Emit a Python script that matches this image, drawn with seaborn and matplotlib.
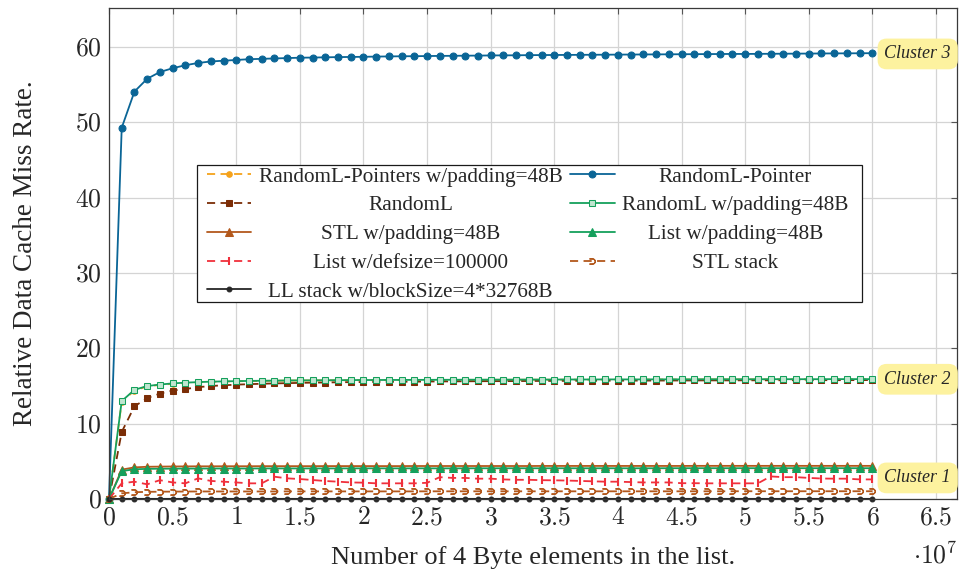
import matplotlib
matplotlib.use("Agg")
import numpy as np
import pandas as pd
import seaborn as sns
import matplotlib.pyplot as plt
from matplotlib.ticker import MultipleLocator, FuncFormatter
from matplotlib.transforms import Affine2D
from matplotlib.path import Path

# ---------------------------------------------------------------- data
# list sizes, in millions of 4-byte elements
size_millions = [0, 1, 2, 3, 4, 5, 6, 7, 8, 9,
                 10, 11, 12, 13, 14, 15, 16, 17, 18, 19,
                 20, 21, 22, 23, 24, 25, 26, 27, 28, 29,
                 30, 31, 32, 33, 34, 35, 36, 37, 38, 39,
                 40, 41, 42, 43, 44, 45, 46, 47, 48, 49,
                 50, 51, 52, 53, 54, 55, 56, 57, 58, 59,
                 60]

randoml_pointers_pad = [0.0, 12.9, 14.4, 14.95, 15.15, 15.3, 15.4, 15.5, 15.55, 15.6,
                        15.63, 15.66, 15.68, 15.7, 15.72, 15.73, 15.74, 15.75, 15.76, 15.77,
                        15.78, 15.78, 15.79, 15.79, 15.8, 15.8, 15.81, 15.81, 15.82, 15.82,
                        15.83, 15.83, 15.83, 15.84, 15.84, 15.84, 15.85, 15.85, 15.85, 15.86,
                        15.86, 15.86, 15.86, 15.87, 15.87, 15.87, 15.87, 15.88, 15.88, 15.88,
                        15.88, 15.88, 15.89, 15.89, 15.89, 15.89, 15.89, 15.9, 15.9, 15.9,
                        15.9]

randoml_pointer = [0.0, 49.3, 54.1, 55.8, 56.7, 57.2, 57.6, 57.9, 58.1, 58.2,
                   58.3, 58.4, 58.45, 58.5, 58.55, 58.6, 58.62, 58.65, 58.68, 58.7,
                   58.72, 58.75, 58.77, 58.79, 58.8, 58.82, 58.84, 58.85, 58.87, 58.88,
                   58.9, 58.91, 58.92, 58.94, 58.95, 58.96, 58.97, 58.98, 58.99, 59.0,
                   59.01, 59.02, 59.03, 59.04, 59.05, 59.06, 59.07, 59.08, 59.09, 59.1,
                   59.1, 59.11, 59.12, 59.13, 59.14, 59.15, 59.16, 59.17, 59.18, 59.19,
                   59.2]

randoml = [0.0, 8.9, 12.3, 13.4, 14.0, 14.4, 14.6, 14.85, 15.0, 15.1,
           15.18, 15.25, 15.3, 15.35, 15.38, 15.42, 15.45, 15.47, 15.5, 15.52,
           15.53, 15.55, 15.56, 15.57, 15.58, 15.6, 15.61, 15.62, 15.63, 15.64,
           15.65, 15.65, 15.66, 15.67, 15.68, 15.68, 15.69, 15.7, 15.7, 15.71,
           15.71, 15.72, 15.72, 15.73, 15.73, 15.74, 15.74, 15.75, 15.75, 15.75,
           15.76, 15.76, 15.76, 15.77, 15.77, 15.77, 15.78, 15.78, 15.78, 15.79,
           15.79]

randoml_pad = [0.0, 13.0, 14.5, 15.0, 15.2, 15.35, 15.45, 15.52, 15.58, 15.62,
               15.65, 15.68, 15.7, 15.72, 15.74, 15.75, 15.76, 15.77, 15.78, 15.79,
               15.8, 15.8, 15.81, 15.81, 15.82, 15.82, 15.83, 15.83, 15.84, 15.84,
               15.85, 15.85, 15.85, 15.86, 15.86, 15.86, 15.87, 15.87, 15.87, 15.88,
               15.88, 15.88, 15.88, 15.89, 15.89, 15.89, 15.89, 15.9, 15.9, 15.9,
               15.9, 15.9, 15.91, 15.91, 15.91, 15.91, 15.91, 15.92, 15.92, 15.92,
               15.92]

stl_pad = [0.0, 3.9, 4.2, 4.28, 4.3, 4.32, 4.33, 4.34, 4.34, 4.35,
           4.35, 4.35, 4.36, 4.36, 4.36, 4.36, 4.36, 4.37, 4.37, 4.37,
           4.37, 4.37, 4.37, 4.37, 4.38, 4.38, 4.38, 4.38, 4.38, 4.38,
           4.38, 4.38, 4.38, 4.38, 4.39, 4.39, 4.39, 4.39, 4.39, 4.39,
           4.39, 4.39, 4.39, 4.39, 4.39, 4.39, 4.4, 4.4, 4.4, 4.4,
           4.4, 4.4, 4.4, 4.4, 4.4, 4.4, 4.4, 4.4, 4.4, 4.4,
           4.4]

list_pad = [0.0, 3.7, 3.95, 4.0, 4.02, 4.03, 4.04, 4.04, 4.05, 4.05,
            4.05, 4.05, 4.06, 4.06, 4.06, 4.06, 4.06, 4.06, 4.06, 4.07,
            4.07, 4.07, 4.07, 4.07, 4.07, 4.07, 4.07, 4.07, 4.07, 4.08,
            4.08, 4.08, 4.08, 4.08, 4.08, 4.08, 4.08, 4.08, 4.08, 4.08,
            4.08, 4.08, 4.08, 4.08, 4.09, 4.09, 4.09, 4.09, 4.09, 4.09,
            4.09, 4.09, 4.09, 4.09, 4.09, 4.09, 4.09, 4.09, 4.09, 4.09,
            4.09]

list_defsize = [0.0, 2.08, 2.3, 1.95, 2.5, 2.2, 2.08, 2.74, 2.4, 2.3,
                2.2, 2.08, 2.08, 2.96, 2.74, 2.65, 2.52, 2.39, 2.3, 2.2,
                2.17, 2.08, 2.08, 2.08, 2.08, 2.15, 2.9, 2.8, 2.8, 2.7,
                2.7, 2.6, 2.55, 2.55, 2.5, 2.48, 2.45, 2.4, 2.35, 2.3,
                2.3, 2.25, 2.2, 2.2, 2.2, 2.1, 2.1, 2.08, 2.08, 2.08,
                2.08, 2.08, 3.0, 2.9, 2.9, 2.8, 2.72, 2.7, 2.7, 2.6,
                2.6]

stl_stack = [0.0, 0.75, 0.9, 0.95, 0.97, 0.98, 0.99, 1.0, 1.0, 1.0,
             1.0, 1.0, 1.0, 1.0, 1.01, 1.01, 1.01, 1.01, 1.01, 1.01,
             1.01, 1.01, 1.01, 1.01, 1.01, 1.02, 1.02, 1.02, 1.02, 1.02,
             1.02, 1.02, 1.02, 1.02, 1.02, 1.02, 1.02, 1.02, 1.02, 1.02,
             1.02, 1.02, 1.02, 1.02, 1.02, 1.02, 1.02, 1.02, 1.02, 1.03,
             1.03, 1.03, 1.03, 1.03, 1.03, 1.03, 1.03, 1.03, 1.03, 1.03,
             1.03]

ll_stack = [0.0, 0.02, 0.02, 0.02, 0.02, 0.02, 0.02, 0.02, 0.02, 0.02,
            0.02, 0.02, 0.02, 0.02, 0.02, 0.02, 0.02, 0.02, 0.02, 0.02,
            0.02, 0.02, 0.02, 0.02, 0.02, 0.02, 0.02, 0.02, 0.02, 0.02,
            0.02, 0.02, 0.02, 0.02, 0.02, 0.02, 0.02, 0.02, 0.02, 0.02,
            0.02, 0.02, 0.02, 0.02, 0.02, 0.02, 0.02, 0.02, 0.02, 0.02,
            0.02, 0.02, 0.02, 0.02, 0.02, 0.02, 0.02, 0.02, 0.02, 0.02,
            0.02]

series_labels = ["RandomL-Pointers w/padding=48B", "RandomL-Pointer", "RandomL",
                 "RandomL w/padding=48B", "STL w/padding=48B", "List w/padding=48B",
                 "List w/defsize=100000", "STL stack", "LL stack w/blockSize=4*32768B"]
series_values = [randoml_pointers_pad, randoml_pointer, randoml, randoml_pad,
                 stl_pad, list_pad, list_defsize, stl_stack, ll_stack]

cluster_labels = ["Cluster 3", "Cluster 2", "Cluster 1"]
cluster_levels = [59.1, 15.9, 2.8]

# ---------------------------------------------------------------- style
sns.set_theme(style="whitegrid")
plt.rcParams.update({
    "font.family": ["Liberation Serif", "DejaVu Serif"],
    "mathtext.fontset": "cm",
    "axes.edgecolor": "#3a3a3a",
    "axes.linewidth": 0.9,
    "grid.color": "#d4d4d4",
    "grid.linewidth": 0.9,
})

dash = (0, (4.5, 3.0))
styles = [
    dict(color="#f5a21b", linestyle=dash, marker="o", markersize=4, mfc="#f5a21b"),
    dict(color="#0a6596", linestyle="-", marker="o", markersize=5, mfc="#0a6596"),
    dict(color="#7b2d06", linestyle=dash, marker="s", markersize=5, mfc="#7b2d06"),
    dict(color="#15a05c", linestyle="-", marker="s", markersize=5, mfc="#bfe6cf"),
    dict(color="#b3581c", linestyle="-", marker="^", markersize=5.5, mfc="#b3581c"),
    dict(color="#15a05c", linestyle="-", marker="^", markersize=5.5, mfc="#15a05c"),
    dict(color="#f0303c", linestyle=dash, marker="|", markersize=5.5, mfc="#f0303c", markeredgewidth=1.5),
    dict(color="#b3581c", linestyle=dash, marker=r"$\supset$", markersize=4.2, mfc="#b3581c"),
    dict(color="#262626", linestyle="-", marker="o", markersize=3.5, mfc="#262626"),
]

fig = plt.figure(figsize=(9.62, 5.74), dpi=100)
ax = fig.add_axes([109 / 962, 75 / 574, 848 / 962, 491 / 574])

x = np.array(size_millions) * 1e6
handles = []
for label, vals, st in zip(series_labels, series_values, styles):
    st = dict(st)
    color = st.pop("color")
    mfc = st.pop("mfc")
    sns.lineplot(x=x, y=vals, ax=ax, color=color, label=label,
                 markerfacecolor=mfc, markeredgecolor=color, linewidth=1.3,
                 errorbar=None, clip_on=False, **st)
    handles.append(ax.get_lines()[-1])

ax.set_xlim(0, 6.665e7)
ax.set_ylim(0, 65.2)
ax.xaxis.set_major_locator(MultipleLocator(0.5e7))
ax.yaxis.set_major_locator(MultipleLocator(10))
ax.xaxis.set_major_formatter(FuncFormatter(lambda v, p: f"${v / 1e7:g}$"))
ax.yaxis.set_major_formatter(FuncFormatter(lambda v, p: f"${v:g}$"))
ax.tick_params(axis="both", which="both", direction="in", length=4, width=0.8,
               color="#555555", top=True, right=True, labelsize=18.5)
ax.tick_params(axis="y", pad=5)
ax.tick_params(axis="x", pad=6)
ax.grid(True)
for sp in ax.spines.values():
    sp.set_visible(True)

ax.set_xlabel("Number of 4 Byte elements in the list.", fontsize=19, labelpad=12)
ax.set_ylabel("Relative Data Cache Miss Rate.", fontsize=19.5, labelpad=27)
fig.text(935 / 962, 1 - 555 / 574, r"$\cdot 10^{7}$", fontsize=18.5, ha="center", va="center")

# cluster tags at the right end of each group of curves
for txt, lvl in zip(cluster_labels, cluster_levels):
    ax.text(6.095e7, lvl, txt, fontsize=13, style="italic", ha="left", va="center",
            clip_on=False, zorder=10,
            bbox=dict(boxstyle="round,pad=0.38,rounding_size=0.5", fc="#fdf29f", ec="none"))


def legend_frame(x0, y0, width, height, mutation_size):
    """Rectangle with extra room left/right and a slightly trimmed bottom."""
    left = x0 - 0.38 * mutation_size
    right = x0 + width + 0.55 * mutation_size
    bottom = y0 + 0.08 * mutation_size
    top = y0 + height
    return Path([(left, bottom), (right, bottom), (right, top), (left, top), (left, bottom)],
                closed=True)


# legend: pgfplots fills row by row, matplotlib column by column
order = [0, 2, 4, 6, 8, 1, 3, 5, 7]
leg = ax.legend([handles[i] for i in order], [series_labels[i] for i in order],
                ncol=2, loc="upper left", bbox_to_anchor=(0.1133, 0.680),
                borderaxespad=0.0,
                fontsize=15.3, frameon=True, fancybox=False, framealpha=1,
                edgecolor="#1a1a1a", handlelength=2.1, numpoints=1,
                labelspacing=0.42, columnspacing=0.35, handletextpad=0.35,
                borderpad=0.08)
leg.get_frame().set_linewidth(0.9)
leg.get_frame().set_boxstyle(legend_frame)
leg.set_zorder(20)

# centre each legend label within its column
fig.canvas.draw()
renderer = fig.canvas.get_renderer()
texts = leg.get_texts()
for col in (texts[:5], texts[5:]):
    widths = [t.get_window_extent(renderer).width for t in col]
    wmax = max(widths)
    for t, w in zip(col, widths):
        t.set_transform(t.get_transform() + Affine2D().translate((wmax - w) / 2, 0))

fig.savefig("out.png", dpi=100)
